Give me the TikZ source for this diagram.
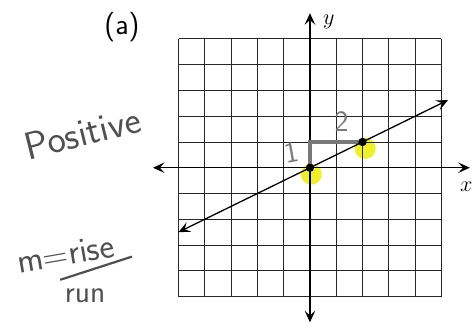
\documentclass[tikz,border=0pt]{standalone}
\usepackage{tikz}
\usetikzlibrary{arrows.meta}
\definecolor{hilite}{RGB}{240,240,40}
\definecolor{pencil}{RGB}{80,80,80}
\definecolor{marker}{RGB}{120,120,120}
\begin{document}
\begin{tikzpicture}[
   x=0.5cm, y=0.49cm,
   gridln/.style={line width=0.5pt, black!85},
   axis/.style={line width=0.8pt, {Stealth[length=2.2mm,width=2mm,inset=0.9mm]}-{Stealth[length=2.2mm,width=2mm,inset=0.9mm]}},
   hand/.style={font=\sffamily\fontsize{21}{24}\selectfont, text=pencil, inner sep=0pt},
   marknum/.style={font=\sffamily\fontsize{16}{18}\selectfont, text=marker, inner sep=0pt},
   dot/.style={circle, fill=black, inner sep=0pt, minimum size=1.6mm},
   glow/.style={circle, fill=hilite, inner sep=0pt, minimum size=4mm}
]
\useasboundingbox (-11.79,-6.24) rectangle (6.24,6.51);
% highlighter
\node[glow] (g0) at (0.05,-0.25) {};
\node[glow] (g1) at (2.1,-0.25+1) {};
% grid and axes
\draw[gridln, step=1] (-5,-5) grid (5,5);
\coordinate (xl) at (-5.97,0); \coordinate (xr) at (6.08,0);
\coordinate (yb) at (0,-6.0); \coordinate (yt) at (0,6.0);
\draw[axis] (xl) -- (xr);
\draw[axis] (yb) -- (yt);
\node[font=\large] (ylab) at (0.72,5.68) {$y$};
\node[font=\large] (xlab) at (5.95,-0.75) {$x$};
% rise and run
\coordinate (o) at (0,0); \coordinate (c) at (0,1); \coordinate (p) at (2,1);
\draw[marker, line width=2pt] (o) -- (c) -- (p);
\node[marknum, rotate=10] (one) at (-0.68,0.6) {1};
\node[marknum] (two) at (1.2,1.8) {2};
% the line
\coordinate (ll) at (-5,-2.5); \coordinate (lr) at (5.25,2.625);
\draw[axis, line width=0.7pt] (ll) -- (lr);
\node[dot] (d0) at (o) {};
\node[dot] (d1) at (p) {};
% notes
\node[font=\sffamily\fontsize{16}{18}\selectfont] (part) at (-7.15,5.45) {(a)};
\node[hand, rotate=14] (pos) at (-8.65,1.35) {Positive};
\node[hand, font=\sffamily\fontsize{19}{22}\selectfont, rotate=10] (rise) at (-9.3,-3.35) {m=rise};
\node[hand, font=\sffamily\fontsize{17}{20}\selectfont] (run) at (-8.55,-4.95) {run};
\coordinate (barl) at (-9.5,-4.35); \coordinate (barr) at (-6.77,-3.45);
\draw[pencil, line width=1.2pt] (barl) -- (barr);
\end{tikzpicture}
\end{document}
